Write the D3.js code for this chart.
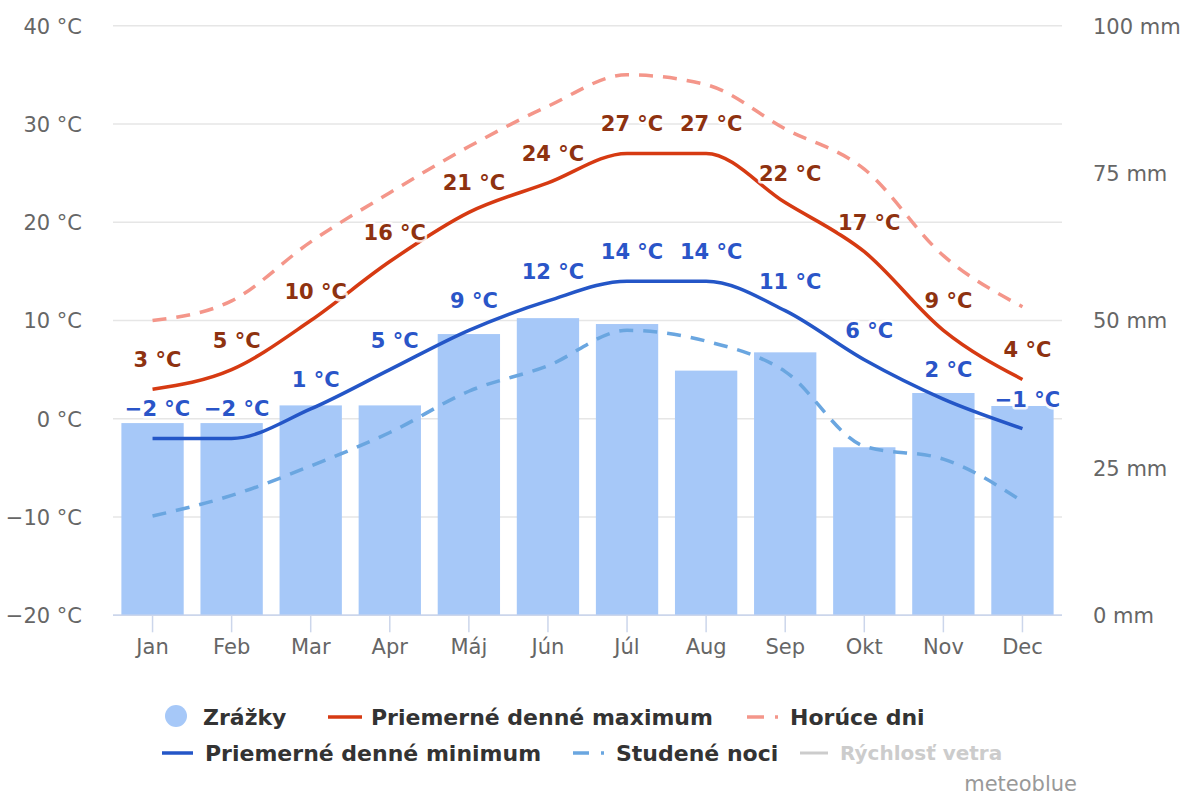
<!DOCTYPE html>
<html>
<head>
<meta charset="utf-8">
<script src="https://cdn.jsdelivr.net/npm/d3@7"></script>
<style>
  body { margin: 0; background: #fff; }
  svg { display: block; font-family: "DejaVu Sans", sans-serif; }
  text { font-family: "DejaVu Sans", sans-serif; }
  .tick-label { fill: #666; font-size: 21px; }
  .dlabel { font-size: 21px; font-weight: bold; stroke: #fff; stroke-width: 5px; stroke-linejoin: round; paint-order: stroke; stroke-opacity: .85; }
  .legend-text { font-size: 22px; font-weight: bold; fill: #333; }
</style>
</head>
<body>
<svg width="1183" height="796"></svg>
<script>
const months = ["Jan", "Feb", "Mar", "Apr", "Máj", "Jún", "Júl", "Aug", "Sep", "Okt", "Nov", "Dec"];
const precipitation = [32.6, 32.6, 35.6, 35.6, 47.7, 50.4, 49.4, 41.5, 44.6, 28.5, 37.7, 35.5];
const maxTemp = [3, 5, 10, 16, 21, 24, 27, 27, 22, 17, 9, 4];
const minTemp = [-2, -2, 1, 5, 9, 12, 14, 14, 11, 6, 2, -1];
const hotDays = [10, 12, 18, 23, 27.7, 31.8, 35, 34, 29.5, 25.4, 16.6, 11.4];
const coldNights = [-9.9, -7.8, -4.8, -1.4, 2.8, 5.4, 9, 7.9, 4.8, -2.8, -4.1, -8.4];
const tempTicks = [-20, -10, 0, 10, 20, 30, 40];
const mmTicks = [0, 25, 50, 75, 100];

let svg = d3.select("svg");
let plotLeft = 113, plotRight = 1062, plotTop = 25.7, plotBottom = 615.3;

let x = d3.scaleBand().domain(months).range([plotLeft, plotRight]).paddingInner(0.212).paddingOuter(0.106);
let y = d3.scaleLinear().domain([-20, 40]).range([plotBottom, plotTop]);
let yMm = d3.scaleLinear().domain([0, 100]).range([plotBottom, plotTop]);
let cx = m => x(m) + x.bandwidth() / 2;
let fmtTemp = d => (d < 0 ? "\u2212" + Math.abs(d) : d) + " °C";

// grid lines
svg.append("g")
  .selectAll("line")
  .data(tempTicks)
  .enter().append("line")
  .attr("x1", plotLeft).attr("x2", plotRight)
  .attr("y1", d => y(d)).attr("y2", d => y(d))
  .attr("stroke", d => d === -20 ? "#ccd6eb" : "#e6e6e6")
  .attr("stroke-width", 1.5);

// left axis
let yAxis = d3.axisLeft(y).tickValues(tempTicks).tickSize(0).tickPadding(31).tickFormat(fmtTemp);
let gy = svg.append("g").attr("transform", `translate(${plotLeft},0)`).call(yAxis);
gy.select(".domain").remove();
gy.selectAll("text").attr("class", "tick-label").attr("dy", "0.35em");

// right axis
let mmAxis = d3.axisRight(yMm).tickValues(mmTicks).tickSize(0).tickPadding(31).tickFormat(d => d + " mm");
let gm = svg.append("g").attr("transform", `translate(${plotRight},0)`).call(mmAxis);
gm.select(".domain").remove();
gm.selectAll("text").attr("class", "tick-label").attr("dy", "0.35em");

// bars
svg.append("g")
  .selectAll("rect")
  .data(months)
  .enter().append("rect")
  .attr("x", d => x(d))
  .attr("width", x.bandwidth())
  .attr("y", (d, i) => yMm(precipitation[i]))
  .attr("height", (d, i) => plotBottom - yMm(precipitation[i]))
  .attr("fill", "#a6c8f8");

// bottom axis
let xAxis = d3.axisBottom(x).tickSize(17).tickPadding(7);
let gx = svg.append("g").attr("transform", `translate(0,${plotBottom})`).call(xAxis);
gx.select(".domain").attr("stroke", "#ccd6eb").attr("stroke-width", 1.5).attr("d", `M${plotLeft},0H${plotRight}`);
gx.selectAll(".tick line").attr("stroke", "#ccd6eb").attr("stroke-width", 1.5);
gx.selectAll("text").attr("class", "tick-label");

let line = d3.line()
  .x((d, i) => cx(months[i]))
  .y(d => y(d))
  .curve(d3.curveMonotoneX);

svg.append("path").attr("d", line(hotDays))
  .attr("fill", "none").attr("stroke", "#f4968a").attr("stroke-width", 3.5)
  .attr("stroke-dasharray", "14,10");
svg.append("path").attr("d", line(coldNights))
  .attr("fill", "none").attr("stroke", "#6aa6e0").attr("stroke-width", 3.5)
  .attr("stroke-dasharray", "14,10");
svg.append("path").attr("d", line(maxTemp))
  .attr("fill", "none").attr("stroke", "#d63a12").attr("stroke-width", 3.5);
svg.append("path").attr("d", line(minTemp))
  .attr("fill", "none").attr("stroke", "#2456c7").attr("stroke-width", 3.5);

// data labels
function labels(data, color) {
  svg.append("g")
    .selectAll("text")
    .data(data)
    .enter().append("text")
    .attr("class", "dlabel")
    .attr("x", (d, i) => cx(months[i]) + 5)
    .attr("y", d => y(d) - 22)
    .attr("text-anchor", "middle")
    .attr("fill", color)
    .text(fmtTemp);
}
labels(maxTemp, "#8e3210");
labels(minTemp, "#2a55c8");

// legend
let legend = svg.append("g");
legend.append("circle").attr("cx", 176).attr("cy", 716).attr("r", 11).attr("fill", "#a6c8f8");
legend.append("text").attr("class", "legend-text").attr("x", 203).attr("y", 725).text("Zrážky");

legend.append("line").attr("x1", 328).attr("x2", 362).attr("y1", 717).attr("y2", 717)
  .attr("stroke", "#d63a12").attr("stroke-width", 3.5);
legend.append("text").attr("class", "legend-text").attr("x", 371).attr("y", 725).text("Priemerné denné maximum");

legend.append("line").attr("x1", 747).attr("x2", 780).attr("y1", 717).attr("y2", 717)
  .attr("stroke", "#f4968a").attr("stroke-width", 3.5).attr("stroke-dasharray", "17,11,3,20");
legend.append("text").attr("class", "legend-text").attr("x", 790).attr("y", 725).text("Horúce dni");

legend.append("line").attr("x1", 162).attr("x2", 193).attr("y1", 753).attr("y2", 753)
  .attr("stroke", "#2456c7").attr("stroke-width", 3.5);
legend.append("text").attr("class", "legend-text").attr("x", 205).attr("y", 761).text("Priemerné denné minimum");

legend.append("line").attr("x1", 573).attr("x2", 605).attr("y1", 753).attr("y2", 753)
  .attr("stroke", "#6aa6e0").attr("stroke-width", 3.5).attr("stroke-dasharray", "16,12,3,20");
legend.append("text").attr("class", "legend-text").attr("x", 616).attr("y", 761).text("Studené noci");

legend.append("line").attr("x1", 800).attr("x2", 828).attr("y1", 753).attr("y2", 753)
  .attr("stroke", "#cccccc").attr("stroke-width", 3);
legend.append("text").attr("class", "legend-text").attr("x", 840).attr("y", 760)
  .style("fill", "#cccccc").style("font-size", "20px").text("Rýchlosť vetra");

svg.append("text").attr("x", 1077).attr("y", 791).attr("text-anchor", "end")
  .attr("fill", "#999").attr("font-size", 21).text("meteoblue");
</script>
</body>
</html>
